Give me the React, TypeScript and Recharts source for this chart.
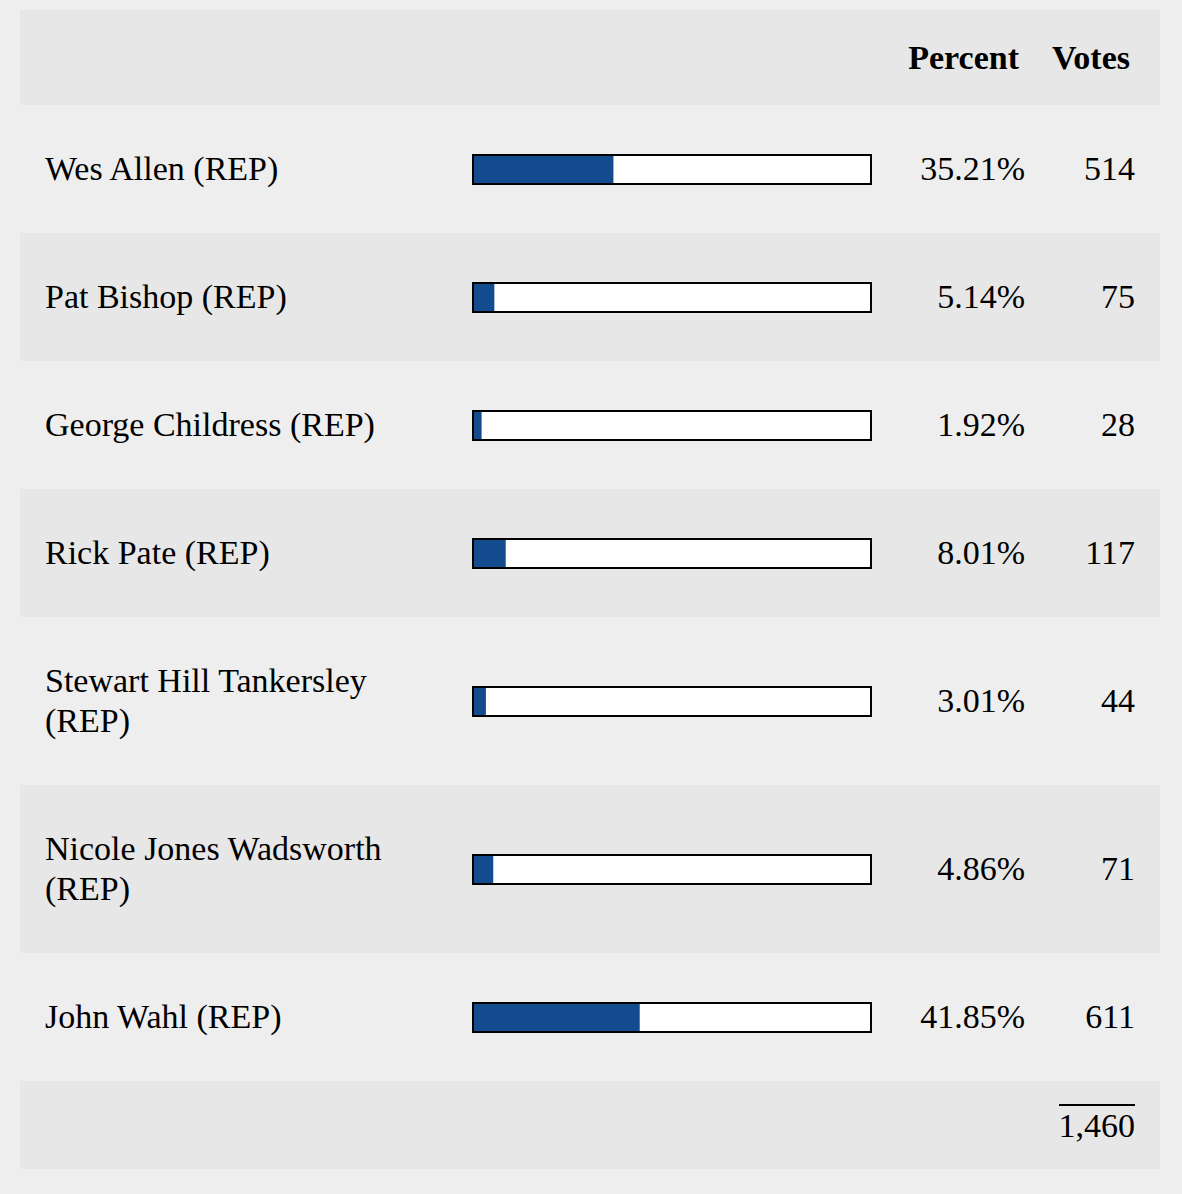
import { BarChart, Bar, XAxis, YAxis } from "recharts";

const candidates = [
  "Wes Allen (REP)",
  "Pat Bishop (REP)",
  "George Childress (REP)",
  "Rick Pate (REP)",
  "Stewart Hill Tankersley (REP)",
  "Nicole Jones Wadsworth (REP)",
  "John Wahl (REP)",
];
const percents = [35.21, 5.14, 1.92, 8.01, 3.01, 4.86, 41.85];
const votes = [514, 75, 28, 117, 44, 71, 611];
const totalVotes = 1460;

const FONT = '"Liberation Serif", "Times New Roman", serif';
const BLUE = "#134b8f";
const BG = "#eeeeee";
const ALT = "#e7e7e7";

function PercentBar({ name, value }: { name: string; value: number }) {
  const data = [{ name, value }];
  return (
    <div
      style={{
        width: 396,
        height: 27,
        border: "2px solid #000",
        background: "#fff",
        flex: "none",
      }}
    >
      <BarChart
        width={396}
        height={27}
        data={data}
        layout="vertical"
        margin={{ top: 0, right: 0, bottom: 0, left: 0 }}
        barCategoryGap={0}
      >
        <XAxis type="number" domain={[0, 100]} hide />
        <YAxis type="category" dataKey="name" hide />
        <Bar dataKey="value" fill={BLUE} isAnimationActive={false} />
      </BarChart>
    </div>
  );
}

export default function App() {
  return (
    <div
      style={{
        position: "absolute",
        top: 0,
        left: 0,
        width: 1182,
        height: 1194,
        background: BG,
        fontFamily: FONT,
        fontSize: 34,
        color: "#000",
        paddingTop: 10,
        boxSizing: "border-box",
      }}
    >
      <div style={{ marginLeft: 20, width: 1140 }}>
        {/* header */}
        <div
          style={{
            height: 95,
            background: ALT,
            display: "flex",
            alignItems: "center",
            fontWeight: "bold",
            lineHeight: "40px",
          }}
        >
          <div style={{ width: 999, textAlign: "right" }}>Percent</div>
          <div style={{ width: 111, textAlign: "right" }}>Votes</div>
        </div>

        {candidates.map((c, i) => (
          <div
            key={c}
            style={{
              display: "flex",
              alignItems: "center",
              padding: "44px 0",
              background: i % 2 === 1 ? ALT : "transparent",
              lineHeight: "40px",
            }}
          >
            <div style={{ width: 380, marginLeft: 25, marginRight: 47 }}>{c}</div>
            <PercentBar name={c} value={percents[i]} />
            <div style={{ width: 153, textAlign: "right" }}>
              {percents[i].toFixed(2)}%
            </div>
            <div style={{ width: 110, textAlign: "right" }}>{votes[i]}</div>
          </div>
        ))}

        {/* total */}
        <div
          style={{
            height: 88,
            background: ALT,
            display: "flex",
            alignItems: "center",
            justifyContent: "flex-end",
          }}
        >
          <div
            style={{
              borderTop: "2px solid #000",
              lineHeight: "40px",
              marginRight: 25,
            }}
          >
            {totalVotes.toLocaleString("en-US")}
          </div>
        </div>
      </div>
    </div>
  );
}
